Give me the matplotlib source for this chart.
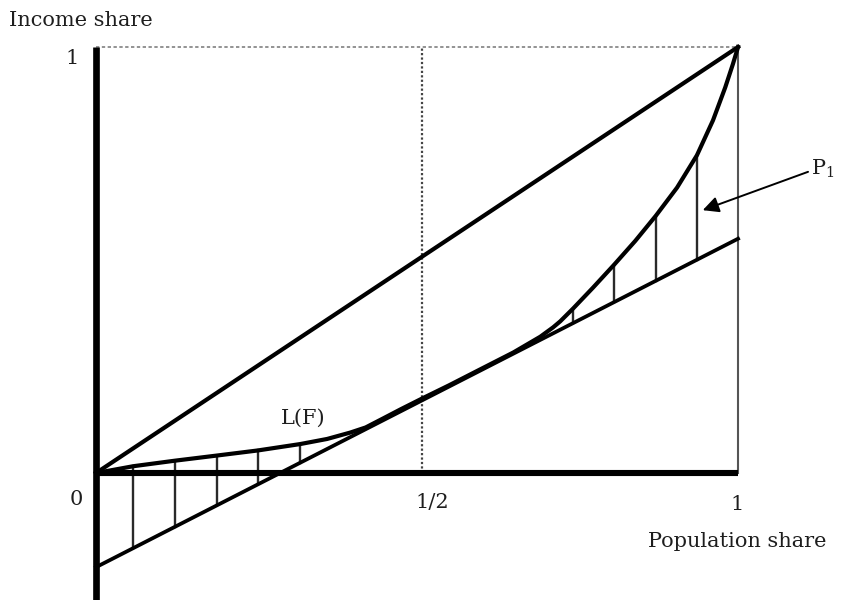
import matplotlib.pyplot as plt

# Lorenz curve L(F)
pop_share = [0, 0.058, 0.123, 0.188, 0.252, 0.318, 0.36, 0.396, 0.42, 0.447,
             0.475, 0.508, 0.55, 0.598, 0.65, 0.692, 0.712, 0.723, 0.743, 0.774,
             0.807, 0.840, 0.872, 0.905, 0.936, 0.961, 0.980, 0.992, 1.0]
inc_share = [0, 0.016, 0.029, 0.041, 0.053, 0.068, 0.080, 0.095, 0.107, 0.128,
             0.150, 0.175, 0.206, 0.243, 0.283, 0.320, 0.342, 0.356, 0.386, 0.435,
             0.489, 0.545, 0.604, 0.670, 0.746, 0.828, 0.905, 0.960, 1.0]

# tangent line (value at x=0 and x=1)
tan_x = [0, 1]
tan_y = [-0.221, 0.55]

# hatching positions (indices into pop_share)
hatch_left = [1, 2, 3, 4, 5]
hatch_right = [18, 20, 22, 24]

half_x = 0.508   # where the dotted 1/2 line sits in the figure

plt.rcParams['font.family'] = ['DejaVu Serif']
plt.rcParams['mathtext.fontset'] = 'dejavuserif'

fig = plt.figure(figsize=(8.44, 6.0), dpi=100)
ax = fig.add_axes([0, 0, 1, 1])
ax.set_xlim(-0.1495, 1.165)
ax.set_ylim(-0.298, 1.1103)
ax.axis('off')

def tangent(x):
    return tan_y[0] + (tan_y[1] - tan_y[0]) * x

# hatch lines between curve and tangent
for i in hatch_left + hatch_right:
    x = pop_share[i]
    ax.plot([x, x], [inc_share[i], tangent(x)], color='#2a2a2a', lw=1.7, zorder=2)

# thin vertical at x=1 and dotted guides
ax.plot([1, 1], [0, 1], color='#555555', lw=1.5, zorder=2)
ax.plot([0, 1], [1, 1], color='#808080', lw=1.2, ls=(0, (2, 1.5)), zorder=1)
ax.plot([half_x, half_x], [0, 1], color='#444444', lw=1.6, ls=(0, (1, 1)), zorder=1)

# axes
ax.plot([0, 0], [-0.3, 1], color='black', lw=4.8, solid_capstyle='butt', zorder=4)
ax.plot([0, 1], [0, 0], color='black', lw=4.4, solid_capstyle='butt', zorder=4)

# equality line, Lorenz curve, tangent
ax.plot([0, 1], [0, 1], color='black', lw=3.0, zorder=3)
ax.plot(pop_share, inc_share, color='black', lw=3.0, zorder=3,
        solid_joinstyle='round')
ax.plot(tan_x, tan_y, color='black', lw=2.7, zorder=3)

# labels
tc = '#1e1e1e'
fs = 15
ax.text(-0.136, 1.063, 'Income share', fontsize=fs, color=tc, ha='left', va='center')
ax.text(-0.037, 0.974, '1', fontsize=fs, color=tc, ha='center', va='center')
ax.text(-0.030, -0.063, '0', fontsize=fs, color=tc, ha='center', va='center')
ax.text(0.523, -0.068, '1/2', fontsize=fs, color=tc, ha='center', va='center')
ax.text(0.998, -0.075, '1', fontsize=fs, color=tc, ha='center', va='center')
ax.text(0.999, -0.160, 'Population share', fontsize=fs, color=tc, ha='center', va='center')
ax.text(0.322, 0.129, 'L(F)', fontsize=fs, color=tc, ha='center', va='center')
ax.text(1.113, 0.714, r'$\mathregular{P_1}$', fontsize=fs, color=tc,
        ha='left', va='center')

ax.annotate('', xy=(0.945, 0.617), xytext=(1.109, 0.707),
            arrowprops=dict(arrowstyle='-|>', color='black', lw=1.4,
                            mutation_scale=24, shrinkA=0, shrinkB=0))

fig.savefig('out.png', dpi=100)
